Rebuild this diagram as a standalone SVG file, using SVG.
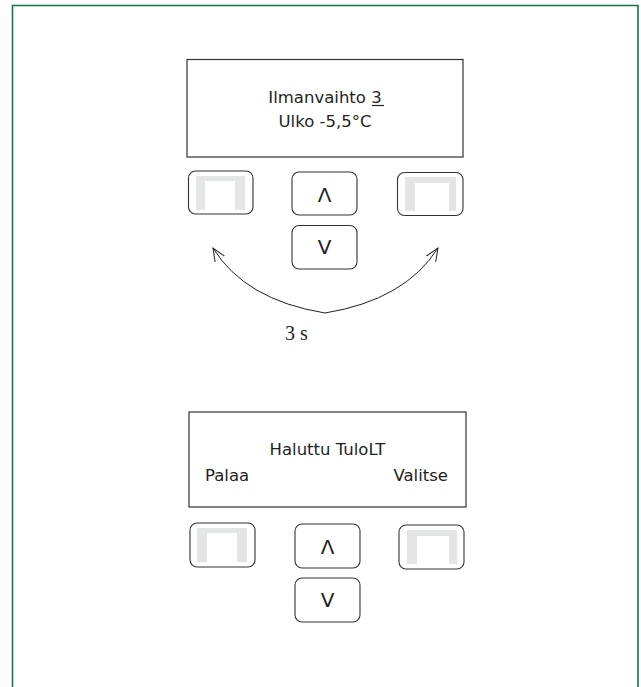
<svg xmlns="http://www.w3.org/2000/svg" width="641" height="687" viewBox="0 0 641 687">
<defs>
<style>
.frame{fill:none;stroke:#0f7a45;stroke-width:1.6}
.disp{fill:#fff;stroke:#333;stroke-width:1.2}
.btn{fill:#fff;stroke:#333;stroke-width:1.1}
.soft{fill:#e4e5e6}
.t{font-family:"DejaVu Sans","Liberation Sans",sans-serif;font-size:16.5px;fill:#231f20}
.ch{font-family:"DejaVu Sans","Liberation Sans",sans-serif;font-size:20px;fill:#231f20;text-anchor:middle}
.arc{fill:none;stroke:#231f20;stroke-width:1}
</style>
<marker id="ah" viewBox="0 0 14 14" refX="13" refY="7" markerWidth="14" markerHeight="14" markerUnits="userSpaceOnUse" orient="auto-start-reverse">
<path d="M0,1.5 L13,7 L0,12.5" fill="none" stroke="#231f20" stroke-width="1"/>
</marker>
</defs>
<path class="frame" d="M12.5,687 V5.5 H638 V687"/>

<g id="display1">
<rect class="disp" x="187" y="59.5" width="276" height="97.5"/>
<text class="t" x="325" y="103" text-anchor="middle">Ilmanvaihto 3</text>
<line x1="372" y1="105.5" x2="384" y2="105.5" stroke="#231f20" stroke-width="1.2"/>
<text class="t" x="325" y="127" text-anchor="middle">Ulko -5,5°C</text>
</g>
<g id="btn1-left">
<rect class="btn" x="188.5" y="171" width="64.5" height="43" rx="7"/>
<path class="soft" d="M196,176 H245 V210 H235 V181 H205 V210 H196 Z"/>
</g>
<g id="btn1-up">
<rect class="btn" x="292" y="172" width="65" height="43" rx="7"/>
<text class="ch" x="324.5" y="202">Λ</text>
</g>
<g id="btn1-down">
<rect class="btn" x="292" y="225.5" width="65" height="43.5" rx="7"/>
<text class="ch" x="324.5" y="254">V</text>
</g>
<g id="btn1-right">
<rect class="btn" x="397.5" y="172.5" width="65.5" height="43" rx="7"/>
<path class="soft" d="M405,177 H456 V211 H449 V183 H415 V211 H405 Z"/>
</g>

<g id="connectors">
<path class="arc" d="M213,248 Q245,300 325,313 Q405,300 438,248" marker-start="url(#ah)" marker-end="url(#ah)"/>
</g>
<g id="label-3s">
<text x="285" y="340" font-family="'Liberation Serif', 'DejaVu Serif', serif" font-size="20" fill="#231f20">3 s</text>
</g>

<g id="display2">
<rect class="disp" x="189" y="412" width="277" height="95"/>
<text class="t" x="327.5" y="455" text-anchor="middle">Haluttu TuloLT</text>
<text class="t" x="205" y="481">Palaa</text>
<text class="t" x="448" y="481" text-anchor="end">Valitse</text>
</g>
<g id="btn2-left">
<rect class="btn" x="190" y="523" width="65" height="44" rx="7"/>
<path class="soft" d="M197,528 H247 V562 H237 V533 H207 V562 H197 Z"/>
</g>
<g id="btn2-up">
<rect class="btn" x="295" y="524" width="65" height="44" rx="7"/>
<text class="ch" x="327.5" y="554">Λ</text>
</g>
<g id="btn2-down">
<rect class="btn" x="295" y="578" width="65" height="44" rx="7"/>
<text class="ch" x="327.5" y="607">V</text>
</g>
<g id="btn2-right">
<rect class="btn" x="399" y="525" width="65" height="44" rx="7"/>
<path class="soft" d="M407,530 H457 V564 H449 V536 H417 V564 H407 Z"/>
</g>
</svg>
